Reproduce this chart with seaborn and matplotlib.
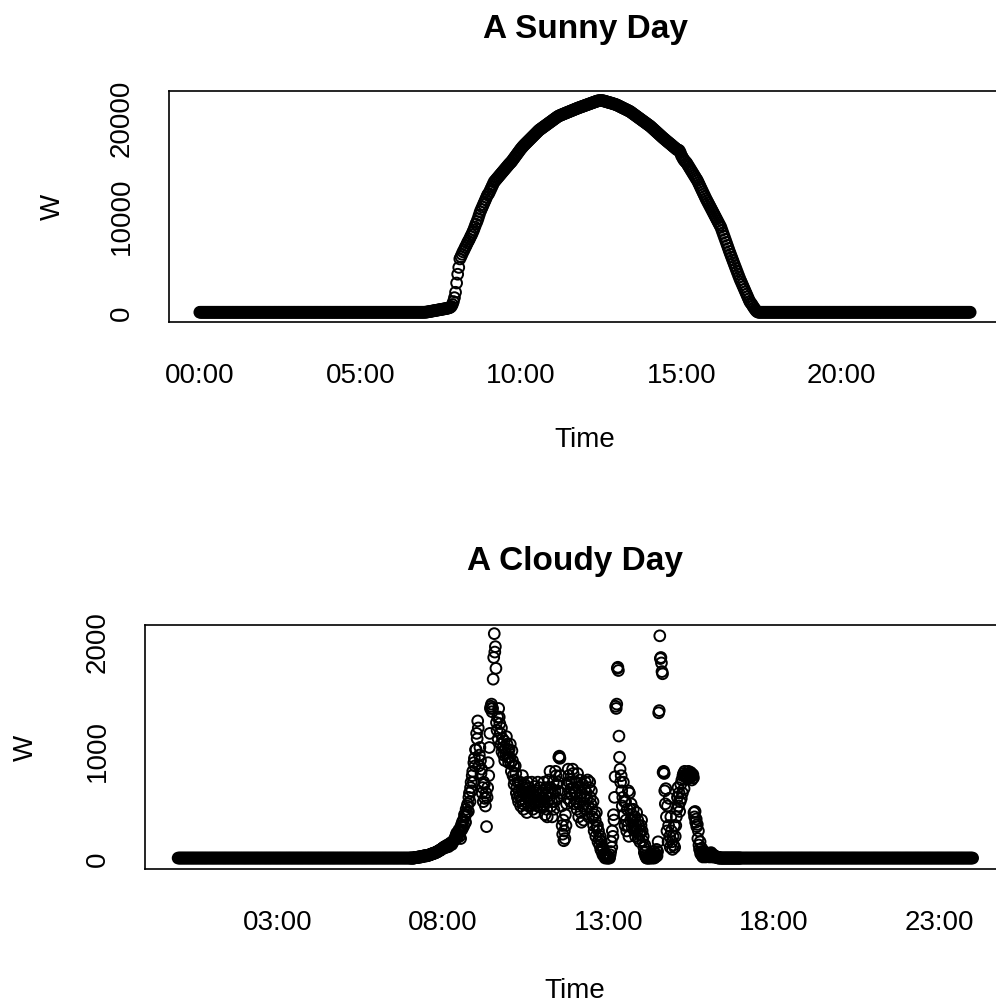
import numpy as np
import pandas as pd
import matplotlib
matplotlib.use("Agg")
import matplotlib.pyplot as plt
import matplotlib.dates as mdates
import seaborn as sns

# ─── Sunny day: power (W) ─────────────────────────────────────
sunny_night_am = [  # 00:00 - 06:58, every 2 min (one row per hour)
    0, 0, 0, 0, 0, 0, 0, 0, 0, 0, 0, 0, 0, 0, 0, 0, 0, 0, 0, 0, 0, 0, 0, 0, 0, 0, 0, 0, 0, 0,
    0, 0, 0, 0, 0, 0, 0, 0, 0, 0, 0, 0, 0, 0, 0, 0, 0, 0, 0, 0, 0, 0, 0, 0, 0, 0, 0, 0, 0, 0,
    0, 0, 0, 0, 0, 0, 0, 0, 0, 0, 0, 0, 0, 0, 0, 0, 0, 0, 0, 0, 0, 0, 0, 0, 0, 0, 0, 0, 0, 0,
    0, 0, 0, 0, 0, 0, 0, 0, 0, 0, 0, 0, 0, 0, 0, 0, 0, 0, 0, 0, 0, 0, 0, 0, 0, 0, 0, 0, 0, 0,
    0, 0, 0, 0, 0, 0, 0, 0, 0, 0, 0, 0, 0, 0, 0, 0, 0, 0, 0, 0, 0, 0, 0, 0, 0, 0, 0, 0, 0, 0,
    0, 0, 0, 0, 0, 0, 0, 0, 0, 0, 0, 0, 0, 0, 0, 0, 0, 0, 0, 0, 0, 0, 0, 0, 0, 0, 0, 0, 0, 0,
    0, 0, 0, 0, 0, 0, 0, 0, 0, 0, 0, 0, 0, 0, 0, 0, 0, 0, 0, 0, 0, 0, 0, 0, 0, 0, 0, 0, 0, 0,
]
sunny_day = [  # 07:00 - 17:58, every 2 min (one row per hour)
    0, 10, 20, 40, 60, 80, 100, 120, 140, 160, 180, 200, 220, 240, 260,
    280, 300, 320, 340, 360, 380, 400, 430, 460, 500, 600, 800, 1100, 1500, 2050,
    3000, 3900, 4600, 5470, 5700, 5950, 6200, 6400, 6650, 6850, 7100, 7300, 7500, 7750, 7950,
    8200, 8450, 8750, 9050, 9300, 9600, 9950, 10290, 10550, 10800, 11050, 11300, 11550, 11800, 12050,
    12170, 12400, 12640, 12880, 13120, 13360, 13490, 13620, 13750, 13880, 14010, 14140, 14270, 14400, 14530,
    14660, 14790, 14920, 15050, 15180, 15300, 15400, 15550, 15700, 15850, 16000, 16150, 16300, 16450, 16600,
    16750, 16880, 17010, 17130, 17240, 17350, 17460, 17570, 17680, 17790, 17900, 18010, 18120, 18230, 18340,
    18450, 18560, 18670, 18750, 18830, 18910, 18990, 19070, 19150, 19230, 19310, 19390, 19470, 19550, 19630,
    19710, 19790, 19870, 19950, 20030, 20100, 20160, 20200, 20250, 20300, 20340, 20390, 20430, 20480, 20520,
    20570, 20610, 20660, 20700, 20750, 20790, 20840, 20880, 20930, 20970, 21010, 21050, 21090, 21130, 21170,
    21210, 21250, 21290, 21330, 21370, 21410, 21450, 21490, 21530, 21570, 21610, 21650, 21680, 21700, 21720,
    21720, 21710, 21690, 21660, 21630, 21600, 21560, 21530, 21500, 21470, 21440, 21400, 21370, 21330, 21300,
    21250, 21200, 21140, 21090, 21030, 20980, 20920, 20870, 20820, 20760, 20710, 20650, 20600, 20520, 20440,
    20360, 20280, 20200, 20120, 20040, 19960, 19880, 19800, 19720, 19640, 19560, 19480, 19400, 19320, 19240,
    19160, 19080, 18980, 18880, 18780, 18680, 18580, 18480, 18380, 18280, 18180, 18080, 17980, 17880, 17790,
    17700, 17600, 17510, 17420, 17330, 17240, 17150, 17050, 16960, 16870, 16780, 16680, 16650, 16600, 16400,
    16100, 15900, 15700, 15550, 15430, 15310, 15130, 14950, 14770, 14590, 14410, 14230, 14050, 13870, 13690,
    13520, 13290, 13060, 12820, 12590, 12360, 12130, 11900, 11660, 11450, 11240, 11030, 10820, 10610, 10400,
    10190, 9980, 9770, 9560, 9350, 9140, 8930, 8720, 8410, 8100, 7790, 7480, 7170, 6860, 6550,
    6240, 5950, 5660, 5370, 5080, 4790, 4500, 4210, 3920, 3630, 3350, 3100, 2850, 2600, 2350,
    2100, 1850, 1600, 1350, 1100, 950, 800, 620, 450, 300, 150, 60, 0, 0, 0,
    0, 0, 0, 0, 0, 0, 0, 0, 0, 0, 0, 0, 0, 0, 0,
]
sunny_night_pm = [  # 18:00 - 24:00, every 2 min (one row per hour)
    0, 0, 0, 0, 0, 0, 0, 0, 0, 0, 0, 0, 0, 0, 0, 0, 0, 0, 0, 0, 0, 0, 0, 0, 0, 0, 0, 0, 0, 0,
    0, 0, 0, 0, 0, 0, 0, 0, 0, 0, 0, 0, 0, 0, 0, 0, 0, 0, 0, 0, 0, 0, 0, 0, 0, 0, 0, 0, 0, 0,
    0, 0, 0, 0, 0, 0, 0, 0, 0, 0, 0, 0, 0, 0, 0, 0, 0, 0, 0, 0, 0, 0, 0, 0, 0, 0, 0, 0, 0, 0,
    0, 0, 0, 0, 0, 0, 0, 0, 0, 0, 0, 0, 0, 0, 0, 0, 0, 0, 0, 0, 0, 0, 0, 0, 0, 0, 0, 0, 0, 0,
    0, 0, 0, 0, 0, 0, 0, 0, 0, 0, 0, 0, 0, 0, 0, 0, 0, 0, 0, 0, 0, 0, 0, 0, 0, 0, 0, 0, 0, 0,
    0, 0, 0, 0, 0, 0, 0, 0, 0, 0, 0, 0, 0, 0, 0, 0, 0, 0, 0, 0, 0, 0, 0, 0, 0, 0, 0, 0, 0, 0,
    0,
]

# ─── Cloudy day: power (W) ────────────────────────────────────
cloudy_night_am = [  # 00:00 - 06:58, every 2 min (one row per hour)
    0, 0, 0, 0, 0, 0, 0, 0, 0, 0, 0, 0, 0, 0, 0, 0, 0, 0, 0, 0, 0, 0, 0, 0, 0, 0, 0, 0, 0, 0,
    0, 0, 0, 0, 0, 0, 0, 0, 0, 0, 0, 0, 0, 0, 0, 0, 0, 0, 0, 0, 0, 0, 0, 0, 0, 0, 0, 0, 0, 0,
    0, 0, 0, 0, 0, 0, 0, 0, 0, 0, 0, 0, 0, 0, 0, 0, 0, 0, 0, 0, 0, 0, 0, 0, 0, 0, 0, 0, 0, 0,
    0, 0, 0, 0, 0, 0, 0, 0, 0, 0, 0, 0, 0, 0, 0, 0, 0, 0, 0, 0, 0, 0, 0, 0, 0, 0, 0, 0, 0, 0,
    0, 0, 0, 0, 0, 0, 0, 0, 0, 0, 0, 0, 0, 0, 0, 0, 0, 0, 0, 0, 0, 0, 0, 0, 0, 0, 0, 0, 0, 0,
    0, 0, 0, 0, 0, 0, 0, 0, 0, 0, 0, 0, 0, 0, 0, 0, 0, 0, 0, 0, 0, 0, 0, 0, 0, 0, 0, 0, 0, 0,
    0, 0, 0, 0, 0, 0, 0, 0, 0, 0, 0, 0, 0, 0, 0, 0, 0, 0, 0, 0, 0, 0, 0, 0, 0, 0, 0, 0, 0, 0,
]
cloudy_day = [  # 07:00 - 16:59, every minute (one row per half hour)
    0, 0, 0, 0, 0, 0, 0, 0, 0, 5, 5, 5, 5, 5, 5, 10, 10, 10, 10, 10, 10, 15, 15, 15, 15, 20, 20, 20, 20, 20,
    20, 25, 25, 25, 25, 30, 30, 30, 35, 35, 40, 40, 40, 45, 45, 45, 50, 50, 55, 55, 60, 60, 65, 70, 70, 75, 75, 80, 85, 90,
    90, 95, 100, 105, 95, 100, 110, 115, 120, 110, 105, 115, 130, 125, 140, 135, 125, 140, 150, 160, 160, 170, 180, 200, 210, 230, 190, 210, 240, 260,
    200, 250, 180, 300, 260, 330, 280, 350, 300, 400, 380, 330, 450, 420, 480, 500, 430, 560, 600, 520, 650, 700, 620, 760, 800, 700, 880, 920, 850, 1000,
    1000, 1150, 1100, 1265, 1200, 850, 950, 1020, 900, 780, 820, 600, 650, 520, 700, 680, 550, 480, 600, 290, 560, 650, 880, 760, 1020, 1150, 1380, 1400, 1420, 1350,
    1380, 1650, 1850, 2070, 1900, 1950, 1750, 1250, 1180, 1300, 1100, 1380, 1300, 1240, 1150, 1050, 1200, 980, 1100, 1020, 950, 1080, 900, 1000, 960, 1120, 1050, 930, 1000, 880,
    1000, 930, 1050, 880, 800, 990, 900, 760, 850, 680, 720, 850, 780, 600, 650, 560, 700, 520, 620, 580, 700, 480, 540, 620, 760, 500, 450, 600, 680, 650,
    520, 600, 420, 700, 580, 480, 650, 560, 620, 480, 540, 700, 600, 450, 520, 580, 660, 500, 420, 560, 620, 480, 700, 540, 580, 650, 470, 520, 600, 560,
    560, 620, 480, 700, 520, 400, 580, 650, 450, 380, 520, 600, 720, 550, 800, 650, 480, 520, 380, 600, 700, 450, 520, 620, 800, 760, 680, 550, 620, 700,
    930, 940, 920, 760, 600, 480, 300, 220, 350, 160, 250, 180, 400, 300, 500, 680, 550, 820, 760, 700, 600, 520, 640, 700, 580, 820, 780, 650, 500, 600,
    600, 700, 520, 450, 780, 650, 380, 500, 720, 560, 420, 330, 600, 680, 480, 350, 560, 640, 700, 450, 600, 550, 720, 480, 380, 650, 700, 560, 500, 620,
    450, 380, 520, 300, 250, 400, 350, 200, 420, 280, 300, 150, 250, 180, 120, 200, 80, 150, 60, 100, 30, 80, 20, 40, 0, 10, 30, 0, 20, 0,
    0, 10, 0, 30, 60, 150, 100, 250, 200, 400, 350, 560, 750, 1400, 1380, 1420, 1750, 1760, 1730, 1125, 930, 820, 700, 760, 620, 480, 560, 700, 400, 520,
    300, 520, 350, 250, 450, 300, 620, 200, 600, 450, 350, 500, 400, 280, 350, 450, 300, 250, 380, 200, 300, 420, 250, 350, 180, 300, 220, 150, 250, 300,
    350, 250, 160, 200, 100, 50, 120, 20, 60, 0, 0, 10, 0, 0, 20, 0, 10, 0, 40, 10, 0, 30, 60, 0, 20, 10, 40, 80, 20, 60,
    150, 1340, 1360, 2050, 1840, 1850, 1800, 1720, 1700, 790, 800, 780, 620, 500, 640, 380, 250, 480, 150, 300, 550, 200, 100, 380, 250, 150, 80, 200, 120, 300,
    100, 200, 300, 380, 450, 560, 650, 480, 600, 430, 520, 680, 550, 720, 600, 760, 780, 640, 800, 760, 750, 770, 740, 760, 750, 800, 780, 740, 760, 790,
    750, 720, 760, 770, 740, 420, 380, 430, 330, 360, 290, 310, 180, 250, 120, 80, 150, 40, 60, 90, 20, 10, 40, 60, 20, 30, 10, 50, 20, 40,
    40, 20, 30, 10, 40, 20, 50, 30, 10, 20, 30, 10, 20, 10, 15, 10, 5, 10, 5, 0, 0, 5, 0, 0, 0, 0, 0, 0, 0, 0,
    0, 0, 0, 0, 0, 0, 0, 0, 0, 0, 0, 0, 0, 0, 0, 0, 0, 0, 0, 0, 0, 0, 0, 0, 0, 0, 0, 0, 0, 0,
]
cloudy_night_pm = [  # 17:00 - 24:00, every 2 min (one row per hour)
    0, 0, 0, 0, 0, 0, 0, 0, 0, 0, 0, 0, 0, 0, 0, 0, 0, 0, 0, 0, 0, 0, 0, 0, 0, 0, 0, 0, 0, 0,
    0, 0, 0, 0, 0, 0, 0, 0, 0, 0, 0, 0, 0, 0, 0, 0, 0, 0, 0, 0, 0, 0, 0, 0, 0, 0, 0, 0, 0, 0,
    0, 0, 0, 0, 0, 0, 0, 0, 0, 0, 0, 0, 0, 0, 0, 0, 0, 0, 0, 0, 0, 0, 0, 0, 0, 0, 0, 0, 0, 0,
    0, 0, 0, 0, 0, 0, 0, 0, 0, 0, 0, 0, 0, 0, 0, 0, 0, 0, 0, 0, 0, 0, 0, 0, 0, 0, 0, 0, 0, 0,
    0, 0, 0, 0, 0, 0, 0, 0, 0, 0, 0, 0, 0, 0, 0, 0, 0, 0, 0, 0, 0, 0, 0, 0, 0, 0, 0, 0, 0, 0,
    0, 0, 0, 0, 0, 0, 0, 0, 0, 0, 0, 0, 0, 0, 0, 0, 0, 0, 0, 0, 0, 0, 0, 0, 0, 0, 0, 0, 0, 0,
    0, 0, 0, 0, 0, 0, 0, 0, 0, 0, 0, 0, 0, 0, 0, 0, 0, 0, 0, 0, 0, 0, 0, 0, 0, 0, 0, 0, 0, 0,
    0,
]

sunny_xticks_h = [0, 5, 10, 15, 20]
cloudy_xticks_h = [3, 8, 13, 18, 23]
sunny_yticks = [0, 5000, 10000, 15000, 20000]
sunny_ylabels = ["0", "", "10000", "", "20000"]
cloudy_yticks = [0, 500, 1000, 1500, 2000]
cloudy_ylabels = ["0", "", "1000", "", "2000"]

day0 = pd.Timestamp("2016-06-01")


def stamps(start_h, n, step):
    return pd.date_range(day0 + pd.Timedelta(hours=start_h), periods=n, freq=step)


sunny = pd.DataFrame({
    "Time": np.concatenate([
        stamps(0, len(sunny_night_am), "2min"),
        stamps(7, len(sunny_day), "2min"),
        stamps(18, len(sunny_night_pm), "2min"),
    ]),
    "W": sunny_night_am + sunny_day + sunny_night_pm,
})
cloudy = pd.DataFrame({
    "Time": np.concatenate([
        stamps(0, len(cloudy_night_am), "2min"),
        stamps(7, len(cloudy_day), "1min"),
        stamps(17, len(cloudy_night_pm), "2min"),
    ]),
    "W": cloudy_night_am + cloudy_day + cloudy_night_pm,
})

# ─── Style: look of R base graphics ───────────────────────────
sns.set_style("white")
plt.rcParams["font.family"] = ["Liberation Sans", "DejaVu Sans"]
plt.rcParams["axes.edgecolor"] = "black"
plt.rcParams["axes.linewidth"] = 1.2
plt.rcParams["text.color"] = "black"
plt.rcParams["axes.labelcolor"] = "black"
plt.rcParams["xtick.color"] = "black"
plt.rcParams["ytick.color"] = "black"

fig = plt.figure(figsize=(9.96, 10.03), dpi=100)
ax_sun = fig.add_axes([0.1697, 0.6780, 0.8353, 0.2306])
ax_cld = fig.add_axes([0.1456, 0.1326, 0.8625, 0.2433])


def hours(h):
    return mdates.date2num(day0 + pd.Timedelta(hours=h))


def draw(ax, df, title, xticks_h, xlim_h, yticks, ylabels, ylim,
         title_pad, xlabel_y, ylabel_x):
    sns.scatterplot(data=df, x="Time", y="W", ax=ax, marker="o", s=60,
                    facecolors="none", edgecolor="black", linewidth=1.4)
    ax.set_xlim(hours(xlim_h[0]), hours(xlim_h[1]))
    ax.set_ylim(*ylim)
    ax.set_xticks([hours(h) for h in xticks_h])
    ax.xaxis.set_major_formatter(mdates.DateFormatter("%H:%M"))
    ax.set_yticks(yticks)
    ax.set_yticklabels(ylabels, rotation=90, va="center")
    ax.tick_params(direction="out", length=11.5, width=1.2, labelsize=20)
    ax.tick_params(axis="x", pad=17)
    ax.tick_params(axis="y", pad=13)
    for sp in ax.spines.values():
        sp.set_visible(True)
        sp.set_color("black")
    ax.set_title(title, fontsize=24, fontweight="bold", pad=title_pad)
    ax.set_xlabel("Time", fontsize=20)
    ax.set_ylabel("W", fontsize=20)
    ax.xaxis.set_label_coords(0.5, xlabel_y)
    ax.yaxis.set_label_coords(ylabel_x, 0.5)


draw(ax_sun, sunny, "A Sunny Day", sunny_xticks_h, (-0.96, 24.96),
     sunny_yticks, sunny_ylabels, (-995, 22728), 38.4, -0.45, -0.124)
draw(ax_cld, cloudy, "A Cloudy Day", cloudy_xticks_h, (-1.0, 24.95),
     cloudy_yticks, cloudy_ylabels, (-101, 2150), 40.3, -0.443, -0.123)

fig.savefig("out.png", dpi=100)
